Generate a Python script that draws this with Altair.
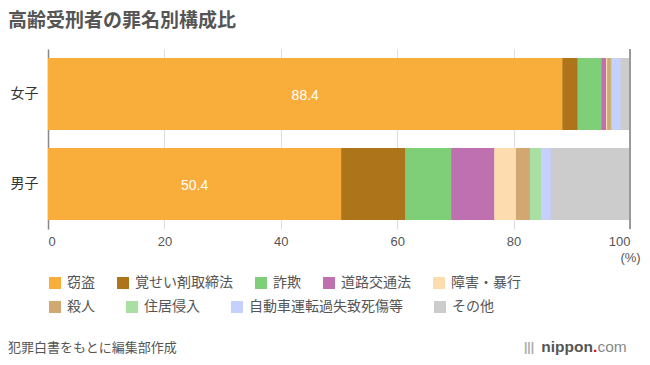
import altair as alt
import pandas as pd

# ---- data ----
sexes = ["女子", "男子"]
cats = ["窃盗", "覚せい剤取締法", "詐欺", "道路交通法", "障害・暴行",
        "殺人", "住居侵入", "自動車運転過失致死傷等", "その他"]
colors = ["#F9AD3B", "#AD7419", "#7ECF78", "#BE70B0", "#FDDDB0",
          "#D1A872", "#A9DFA3", "#C6D0FD", "#CCCCCC"]
female = [88.4, 2.6, 4.1, 0.8, 0.2, 0.6, 0.2, 1.5, 1.6]
male = [50.4, 11.0, 7.9, 7.4, 3.7, 2.4, 1.9, 1.7, 13.6]
x_ticks = [0, 20, 40, 60, 80, 100]
title_text = "高齢受刑者の罪名別構成比"
source_text = "犯罪白書をもとに編集部作成"

FONT = "'Liberation Sans', 'Noto Sans CJK JP', sans-serif"

rows = []
for s, vals in zip(sexes, [female, male]):
    for i, (c, v) in enumerate(zip(cats, vals)):
        rows.append({"sex": s, "cat": c, "value": v, "order": i})
df = pd.DataFrame(rows)

x_axis = alt.Axis(values=x_ticks, grid=True, gridColor="#dddddd", domain=False,
                  ticks=False, labelPadding=6, labelFontSize=13, labelColor="#555",
                  labelFont=FONT, titleX=582, titleY=28, titleAlign="center",
                  titleBaseline="middle", titleFontWeight="normal", titleFontSize=13,
                  titleColor="#555", titleFont=FONT)
x_enc = alt.X("value:Q", stack="zero", title="(%)",
              scale=alt.Scale(domain=[0, 100], nice=False), axis=x_axis)
y_enc = alt.Y("sex:N", sort=sexes, title=None,
              scale=alt.Scale(paddingInner=0.2, paddingOuter=0.1),
              axis=alt.Axis(domain=True, domainColor="#888", domainWidth=1.5,
                            ticks=False, labelFontSize=14, labelColor="#333",
                            labelPadding=10, labelFont=FONT, grid=False))
color_scale = alt.Scale(domain=cats, range=colors)


def make_legend(vals, y, pad):
    return alt.Legend(values=vals, orient="none", legendX=0, legendY=y,
                      direction="horizontal", columns=len(vals), gridAlign="none",
                      columnPadding=pad, symbolType="square", symbolSize=144,
                      symbolStrokeWidth=0, labelFontSize=14, labelColor="#555",
                      labelOffset=5, padding=0, title=None, labelFont=FONT,
                      labelLimit=0)


bars_b = alt.Chart(df).mark_bar().encode(
    x=x_enc, y=y_enc,
    color=alt.Color("cat:N", scale=color_scale, legend=make_legend(cats[5:], 251, 30)),
    order=alt.Order("order:Q"),
)
bars_a = alt.Chart(df).mark_bar().encode(
    x=x_enc, y=y_enc,
    color=alt.Color("cat:N", scale=color_scale, legend=make_legend(cats[:5], 227, 21)),
    order=alt.Order("order:Q"),
)

edge = alt.Chart(pd.DataFrame({"v": [100]})).mark_rule(color="#999", strokeWidth=2).encode(
    x=alt.X("v:Q", title="(%)")
)

labels = alt.Chart(df).transform_filter(alt.datum.order == 0).transform_calculate(
    mid="datum.value / 2"
).mark_text(color="white", fontSize=14, dy=2, font=FONT).encode(
    x=alt.X("mid:Q", title="(%)"),
    y=y_enc,
    text=alt.Text("value:Q", format=".1f"),
)

title = alt.Chart(pd.DataFrame({"t": [title_text]})).mark_text(
    align="left", baseline="middle", fontSize=19, color="#555", fontWeight="bold", font=FONT
).encode(x=alt.value(-40), y=alt.value(-28), text="t:N")

source = alt.Chart(pd.DataFrame({"t": [source_text]})).mark_text(
    align="left", baseline="middle", fontSize=13, color="#555", font=FONT
).encode(x=alt.value(-40), y=alt.value(299), text="t:N")

logo_icon = alt.Chart(pd.DataFrame({"t": ["|||"]})).mark_text(
    align="right", baseline="middle", fontSize=12, color="#aaa", fontWeight="bold", font=FONT
).encode(x=alt.value(486), y=alt.value(298), text="t:N")
logo_main = alt.Chart(pd.DataFrame({"t": ["nippon"]})).mark_text(
    align="right", baseline="middle", fontSize=15.5, color="#555", fontWeight="bold",
    font="'Liberation Sans', sans-serif"
).encode(x=alt.value(545), y=alt.value(298), text="t:N")
logo_dot = alt.Chart(pd.DataFrame({"t": ["."]})).mark_text(
    align="left", baseline="middle", fontSize=15.5, color="#E60012", fontWeight="bold",
    font="'Liberation Sans', sans-serif"
).encode(x=alt.value(545), y=alt.value(298), text="t:N")
logo_com = alt.Chart(pd.DataFrame({"t": ["com"]})).mark_text(
    align="left", baseline="middle", fontSize=15.5, color="#888",
    font="'Liberation Sans', sans-serif"
).encode(x=alt.value(549.5), y=alt.value(298), text="t:N")

chart = alt.layer(
    bars_b, bars_a, edge, labels, title, source, logo_icon, logo_main, logo_dot, logo_com
).resolve_scale(color="independent").properties(
    width=582, height=180,
    padding={"left": 40, "top": 41, "right": 12, "bottom": 128},
    autosize=alt.AutoSizeParams(type="none"),
).configure_view(stroke=None)

chart.save("out.html", embed_options={"renderer": "svg", "actions": False})
